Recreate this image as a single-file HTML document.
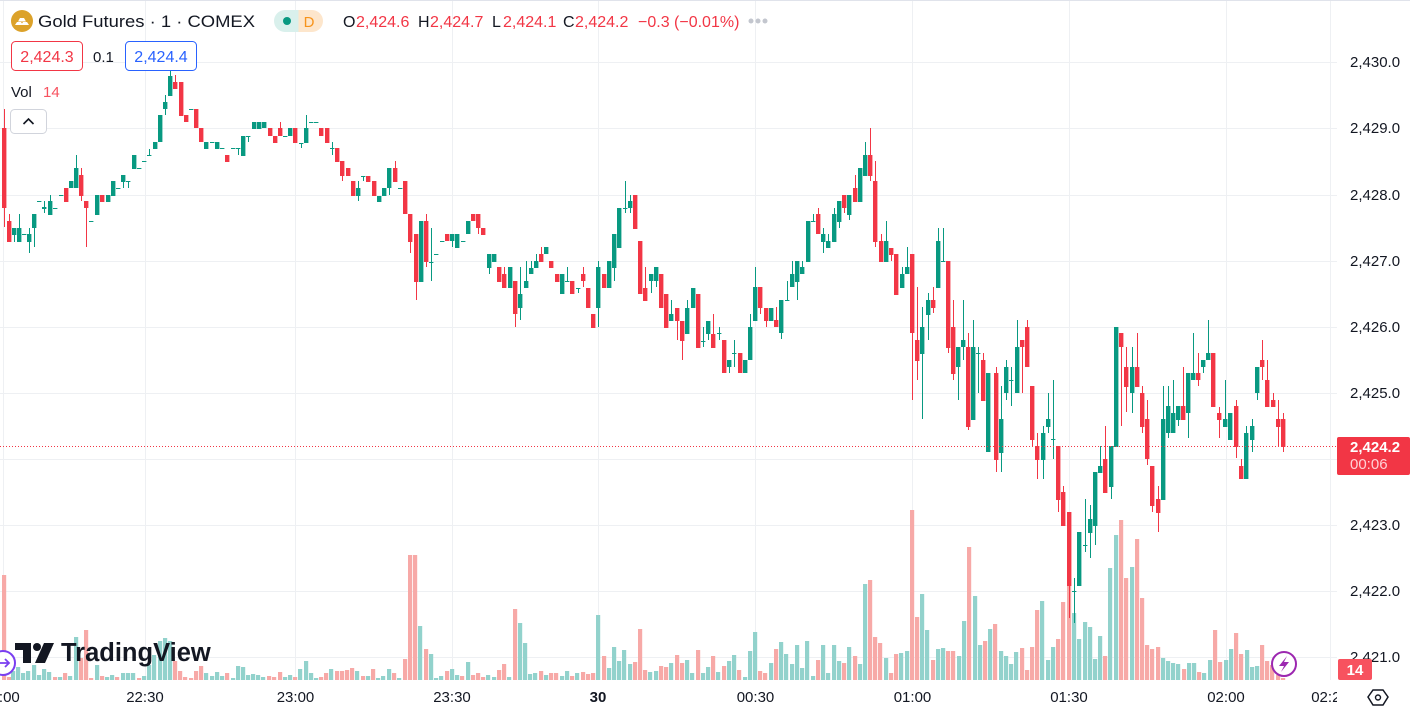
<!DOCTYPE html>
<html><head><meta charset="utf-8">
<style>
html,body{margin:0;padding:0;background:#fff;}
body{width:1410px;height:709px;overflow:hidden;position:relative;font-family:"Liberation Sans",sans-serif;}
svg{position:absolute;left:0;top:0;}
</style></head>
<body>
<svg id="s" width="1410" height="709" viewBox="0 0 1410 709" xmlns="http://www.w3.org/2000/svg" font-family="Liberation Sans, sans-serif">
<rect width="1410" height="709" fill="#fff"/>
<g id="grid" stroke="#eef0f3" stroke-width="1"></g>
<g id="vol"></g>
<g id="cdl"></g>
<line x1="0" y1="446.5" x2="1337" y2="446.5" stroke="#f23645" stroke-width="1" stroke-dasharray="1,2"/>
<line x1="0" y1="0.5" x2="1410" y2="0.5" stroke="#e0e3eb"/>
<!-- legend -->
<circle cx="22" cy="21" r="11" fill="#dca22a"/>
<path d="M15 25 L17 22 L21 22 L23 25 Z M21 25 L23 22 L27 22 L29 25 Z M18 21.5 L20 18 L24 18 L26 21.5 Z" fill="#fff"/>
<text x="38" y="27" font-size="17" fill="#131722" textLength="217" lengthAdjust="spacingAndGlyphs">Gold Futures · 1 · COMEX</text>
<path d="M285 10 H298.5 V32 H285 A11 11 0 0 1 285 10 Z" fill="#d9f0ec"/>
<path d="M298.5 10 H312 A11 11 0 0 1 312 32 H298.5 Z" fill="#fde6cc"/>
<circle cx="287" cy="21" r="4" fill="#089981"/>
<text x="309" y="27" font-size="15" fill="#f7931a" text-anchor="middle">D</text>
<g font-size="16">
<text x="343" y="27" fill="#131722">O</text><text x="356" y="27" fill="#f23645">2,424.6</text>
<text x="418" y="27" fill="#131722">H</text><text x="430" y="27" fill="#f23645">2,424.7</text>
<text x="492" y="27" fill="#131722">L</text><text x="503" y="27" fill="#f23645">2,424.1</text>
<text x="563" y="27" fill="#131722">C</text><text x="575" y="27" fill="#f23645">2,424.2</text>
<text x="638" y="27" fill="#f23645">−0.3 (−0.01%)</text>
</g>
<circle cx="751" cy="21" r="2.5" fill="#c3c6ce"/><circle cx="758" cy="21" r="2.5" fill="#c3c6ce"/><circle cx="765" cy="21" r="2.5" fill="#c3c6ce"/>
<rect x="11.5" y="41.5" width="71" height="29" rx="4" fill="#fff" stroke="#f23645"/>
<text x="47" y="62" font-size="16" fill="#f23645" text-anchor="middle">2,424.3</text>
<text x="93" y="62" font-size="15" fill="#131722">0.1</text>
<rect x="125.5" y="41.5" width="71" height="29" rx="4" fill="#fff" stroke="#2962ff"/>
<text x="161" y="62" font-size="16" fill="#2962ff" text-anchor="middle">2,424.4</text>
<text x="11" y="97" font-size="15" fill="#131722">Vol</text>
<text x="43" y="97" font-size="15" fill="#f7525f">14</text>
<rect x="10.5" y="109.5" width="36" height="24" rx="4" fill="#fff" stroke="#d1d4dc"/>
<polyline points="23.5,124 28.5,119 33.5,124" fill="none" stroke="#131722" stroke-width="1.6"/>
<!-- logo -->
<g fill="#131722">
<path d="M15 643 H31 V663 H23 V650 H15 Z"/>
<circle cx="37" cy="647" r="4"/>
<path d="M44 643 H54 L45 663 H35 Z"/>
<text x="61" y="661" font-size="25.5" font-weight="bold">TradingView</text>
</g>
<circle cx="3" cy="663" r="12" fill="#fff" stroke="#7a3ff0" stroke-width="2"/>
<path d="M-3 663 H9 M5 659 L9 663 L5 667" fill="none" stroke="#7a3ff0" stroke-width="1.8"/>
<circle cx="1284" cy="664" r="12" fill="#fff" stroke="#9c27b0" stroke-width="2"/>
<path d="M1287 656 L1279 666 L1284 666 L1281 672 L1289 662 L1284 662 Z" fill="#9c27b0"/>
<!-- time axis -->
<g font-size="15" fill="#131722" text-anchor="middle">
<text x="1" y="702">22:00</text>
<text x="145" y="702">22:30</text>
<text x="295.5" y="702">23:00</text>
<text x="452" y="702">23:30</text>
<text x="598" y="702" font-weight="bold">30</text>
<text x="755.5" y="702">00:30</text>
<text x="912.5" y="702">01:00</text>
<text x="1069" y="702">01:30</text>
<text x="1226" y="702">02:00</text>
<text x="1330" y="702">02:20</text>
</g>
<!-- price axis -->
<rect x="1337" y="0" width="73" height="709" fill="#fff"/>
<line x1="0" y1="0.5" x2="1410" y2="0.5" stroke="#e0e3eb"/>
<g font-size="15" fill="#131722">
<text x="1350" y="67">2,430.0</text>
<text x="1350" y="133">2,429.0</text>
<text x="1350" y="200">2,428.0</text>
<text x="1350" y="266">2,427.0</text>
<text x="1350" y="332">2,426.0</text>
<text x="1350" y="398">2,425.0</text>
<text x="1350" y="530">2,423.0</text>
<text x="1350" y="596">2,422.0</text>
<text x="1350" y="662">2,421.0</text>
</g>
<rect x="1337" y="437" width="73" height="38" rx="2" fill="#f23645"/>
<text x="1350" y="452" font-size="15" fill="#fff" font-weight="bold">2,424.2</text>
<text x="1350" y="469" font-size="15" fill="#ffd0d5">00:06</text>
<rect x="1338" y="659" width="34" height="21" rx="2" fill="#f7525f"/>
<text x="1355" y="675" font-size="15" fill="#fff" font-weight="bold" text-anchor="middle">14</text>
<path d="M1373 690 L1383 690 L1388 697 L1383 705 L1373 705 L1368 697 Z" fill="none" stroke="#131722" stroke-width="1.5"/>
<circle cx="1378" cy="697.5" r="2.5" fill="none" stroke="#131722" stroke-width="1.4"/>
</svg>
<script>
(function(){
var G='#089981',R='#f23645',VG='#92d2cc',VR='#f7a9a7';
var grid='';
[62,128,195,261,327,393,459,525,591,657].forEach(function(y){grid+='<line x1="0" y1="'+(y+0.5)+'" x2="1337" y2="'+(y+0.5)+'"/>';});
[3.5,145.5,295.5,452.5,598.5,755.5,912.5,1069.5,1226.5,1330.5].forEach(function(x){grid+='<line x1="'+x+'" y1="0" x2="'+x+'" y2="680"/>';});
document.getElementById('grid').innerHTML=grid;
var C=[[3.5,128,208,109,227],[8.5,221,242,214,242],[13.5,235,228,228,242],[18.5,242,228,214,242],[23.5,234,234],[29,242,234,228,253],[34,228,214,214,247],[39,201,201],[44,209,207,201,213],[50,215,201,195,215],[55,208,208],[61,195,195],[65.5,188,202],[71,188,181],[76,188,168,155,188],[81,175,196,168,201],[86,201,208,201,247],[91,221,221],[97,215,195],[102,195,202],[107.5,202,195],[112.5,196,181],[117.5,188,188],[123,182,175,175,188],[128,181,181,181,188],[133.5,169,155],[139,168,168],[144,161,161],[149,155,155,149,155],[154.5,149,142],[159.5,142,115],[165,109,102,95,115],[170,96,76,70,96],[175,82,89,75,89],[180.5,82,116],[186,115,122],[191,109,109],[196,109,128],[201,128,142],[206,149,142],[212,142,142],[217,149,142],[222,148,148],[227,155,162],[233,148,148],[238,148,148,148,155],[243,156,136],[248,136,136,136,142],[253.5,129,122],[258.5,129,122],[263.5,128,122],
[269.5,128,136],[274.5,136,143],[280,128,136,122,136],[285,136,136],[290,136,128],[295,128,143],[301,143,143,143,148],[306,143,128,115,143],[311,122,122],[316,122,122],[321,128,136],[327,128,143],[332,148,148,142,155],[337,148,162],[342,161,176,161,181],[348,168,176],[353,181,196],[358,196,188,181,201],[363,176,176,176,181],[368,176,182],[374,181,196],[379,202,196],[384,196,188],[389,188,168,168,195],[395,168,182,161,182],[400,188,188],[405,181,214],[410,214,242,214,253],[416,234,282,234,300],[421,282,221],[426,221,262,214,267],[431,262,262,228,281],[436,254,254],[442,241,241],[447,234,241],[452,241,234,234,247],[457,248,234],[463,241,241],[468,234,221],[473,214,221],[478,214,228,214,234],[483,228,235],[489,268,254,254,274],[494,262,254],[499,267,282],[504,274,288,267,288],[510,288,267],[515,281,314,281,327],[520,308,294,267,320],
[526,288,281,261,288],[531,274,268,261,274],[536,268,261,254,268],[541,254,262,247,262],[546,254,247],[551,261,268],[557,274,282],[562,294,274],[567,281,281,267,281],[572,281,294],[578,288,288,288,293],[583,274,281,267,287],[588,288,308],[593,314,328],[598,308,267,261,327],[604,274,288],[609,288,261],[614,268,234,234,281],[619,248,208],[625,208,208,181,213],[630,208,201,195,213],[635,195,229],[640,241,294],[645,288,301,267,301],[651,281,274,274,293],[656,281,267,267,287],[661,274,308],[666,294,328],[671,321,314,300,321],[677,308,321,308,340],[682,321,341,321,360],[687,334,308,300,334],[693,308,288],[698,294,348],[703,341,341,327,347],[708,334,321,321,340],[713,334,348,314,348],[719,333,333,327,340],[724,340,373],[729,367,360,360,373],[734,353,353,340,367],[740,353,373],[745,373,360],[750,360,327,314,360],[755,321,287,267,321],[760,287,308,287,314],[766,308,321,308,327],[771,321,308],
[776,320,327,307,327],[781,333,300,300,339],[787,300,300,281,300],[792,287,274,261,287],[797,282,261,261,300],[802,274,267,261,274],[808,262,221],[813,221,221,214,221],[818,214,234,208,234],[823,242,234,228,253],[828,248,241,234,248],[834,242,214,208,242],[839,222,201,201,228],[844,195,208,195,213],[849,215,195,195,220],[855,188,202,175,202],[860,202,168],[865,176,155,142,176],[870,155,176,128,181],[875,181,242,161,247],[881,241,262,234,262],[886,262,241,221,262],[891,248,255,248,261],[896,254,295],[902,288,274,267,288],[907,274,267,247,274],[912,254,333,254,400],[917,340,361,287,380],[922,354,327,307,419],[928,315,300,293,340],[933,300,308,287,313],[938,288,241,228,288],[943,261,261,228,261],[948,261,348,261,353],[953,327,374,300,380],[958,367,347,347,400],[963,347,340,300,360],[968,347,427,333,430],[973,420,347,320,420],[978,353,353,347,393],[983,360,401,353,401],[988,452,373,373,452],
[996,373,460,367,472],[1001,453,419,386,472],[1006,393,367,360,400],[1011,380,380,367,406],[1017,393,347,320,393],[1022,340,347,340,393],[1027,327,367,320,367],[1032,386,440,386,447],[1037,446,460,433,479],[1043,460,433,426,479],[1048,427,419,393,433],[1053,439,439,380,459],[1058,446,500,446,512],[1063,492,526,486,526],[1069,512,586,512,618],[1074,591,591,578,623],[1079,586,532],[1085,545,545,499,552],[1090,533,519,505,558],[1095,526,472,472,545],[1100,473,466,446,473],[1105,459,493,426,493],[1111,487,446,446,499],[1116,447,327],[1121,333,347,333,426],[1126,367,387,347,412],[1132,393,367,347,413],[1137,367,387,333,387],[1142,393,427,386,433],[1147,419,459,400,465],[1152,466,506,466,512],[1158,499,513,486,532],[1163,500,419,386,500],[1168,433,406,386,438],[1173,433,413,380,433],[1178,420,406,406,426],[1183,406,420,367,420],[1188,413,373,373,438],[1193,380,373,333,380],[1198,373,380,353,386],[1203,367,360,360,373],[1208,360,353,320,360],[1213,353,407],[1219,413,420,407,438],[1225,427,419,380,427],[1230,440,413],[1236,406,447,400,458],[1241,466,479,459,479],[1246,479,433,426,479],[1252,440,426,419,452],[1257,393,367,367,400],[1262,360,367,340,380],[1267,380,407,360,407],[1273,400,407,393,407],[1278,419,427,400,447],[1283,419,447,413,452]];
var s='';
C.forEach(function(d){var x=Math.round(d[0]),o=d[1],c=d[2];var h=d.length>3?d[3]:Math.min(o,c),l=d.length>4?d[4]:Math.max(o,c);
h=Math.min(h,o,c);l=Math.max(l,o,c);
var col=c>o?R:G;var t=Math.min(o,c),b=Math.max(o,c);var bh=Math.max(1,b-t);
if(l>h)s+='<rect x="'+x+'" y="'+h+'" width="1" height="'+(l-h)+'" fill="'+col+'"/>';
s+='<rect x="'+(x-2)+'" y="'+t+'" width="4.4" height="'+bh+'" fill="'+col+'"/>';});
document.getElementById('cdl').innerHTML=s;
var V=[[3.5,575,1],[8.5,677,1],[13,671],[18,667],[23,673],[28,671],[34,665],[39,675],[44,669],[49,672],[55,677,1],[60,677],[65,673,1],[70,676],[76,637],[81,658,1],[86,630,1],[91,678,1],[97,665],[102,676,1],[107,677],[112,675],[117,677,1],[123,673],[128,673],[133,673],[139,678,1],[144,676],[149,665],[154,655],[160,641],[165,638],[170,641],[175,661,1],[180,671,1],[185,677,1],[191,678,1],[196,671,1],[201,666,1],[206,673],[212,676],[217,672],[222,676],[227,673,1],[233,678],[238,666],[243,667],[248,675],[253,674],[258,675],[263,677],[269,676,1],[274,677,1],[280,672,1],[285,677],[290,675],[295,677,1],[300,669],[306,661],[311,673],[316,678],[321,677,1],[326,673,1],[331,669],[337,671,1],[342,671,1],[347,670,1],[352,668,1],[357,671],[363,676,1],[368,676],[373,669,1],[378,678],[383,676],[389,669],[394,673,1],[399,678],[405,659,1],[410,555,1],[415,555,1],[420,626],[426,649,1],[431,654],
[436,678],[441,676],[447,671,1],[452,669],[457,675],[462,676,1],[468,662],[473,675,1],[478,673,1],[483,677,1],[488,675],[494,677],[499,670,1],[504,664,1],[509,677],[515,609,1],[520,623],[525,643],[530,674],[535,673],[541,671,1],[546,675],[551,673,1],[556,673,1],[562,676],[567,671],[572,676,1],[577,673],[583,672,1],[588,674,1],[593,673,1],[598,615],[604,656,1],[609,668],[614,647],[619,661],[624,650],[630,664],[635,662,1],[640,629,1],[645,670,1],[650,672],[656,671],[661,666,1],[666,667,1],[671,663],[677,655,1],[682,663,1],[687,660],[692,673],[698,650,1],[703,673],[708,667],[713,656,1],[718,672],[724,666,1],[729,661],[734,655],[739,670,1],[745,677],[750,651],[755,632],[760,671,1],[765,673,1],[771,663],[776,649,1],[781,642],[786,654],[792,664],[797,645],[802,668],[807,641],[813,676],[818,660,1],[823,645],[828,673],[834,645],[839,661],[844,663,1],[849,647],[855,656,1],[860,664],[865,584],[870,580,1],
[875,637,1],[880,643,1],[886,658],[891,673,1],[896,654,1],[901,653],[907,651],[912,510,1],[917,617,1],[922,594],[927,630],[933,660,1],[938,649],[943,648],[948,651,1],[953,651,1],[959,656],[964,621],[969,547,1],[975,596],[980,645],[985,641,1],[990,629],[995,624,1],[1001,651],[1006,656],[1011,664],[1016,652],[1022,648,1],[1027,670,1],[1032,647,1],[1037,610,1],[1042,601],[1048,660],[1053,647],[1058,639,1],[1063,602,1],[1069,586,1],[1074,613],[1079,639],[1085,622],[1090,627],[1095,659],[1100,636],[1105,656,1],[1110,568],[1116,535],[1121,520,1],[1126,578,1],[1132,567],[1137,539,1],[1142,598,1],[1147,645,1],[1152,649,1],[1158,647,1],[1163,658],[1168,661],[1173,663],[1178,664],[1184,669,1],[1189,663],[1194,663],[1199,672,1],[1204,673],[1210,660],[1215,630,1],[1220,662,1],[1226,660],[1231,649],[1236,633,1],[1241,654,1],[1247,650],[1252,667],[1257,666],[1262,645,1],[1267,661,1],[1272,665,1],[1278,675,1],[1283,678,1]];
var v='';
V.forEach(function(d){var x=Math.round(d[0]);v+='<rect x="'+(x-2)+'" y="'+d[1]+'" width="4.2" height="'+(680-d[1])+'" fill="'+(d[2]?VR:VG)+'"/>';});
document.getElementById('vol').innerHTML=v;
})();
</script>
</body></html>
